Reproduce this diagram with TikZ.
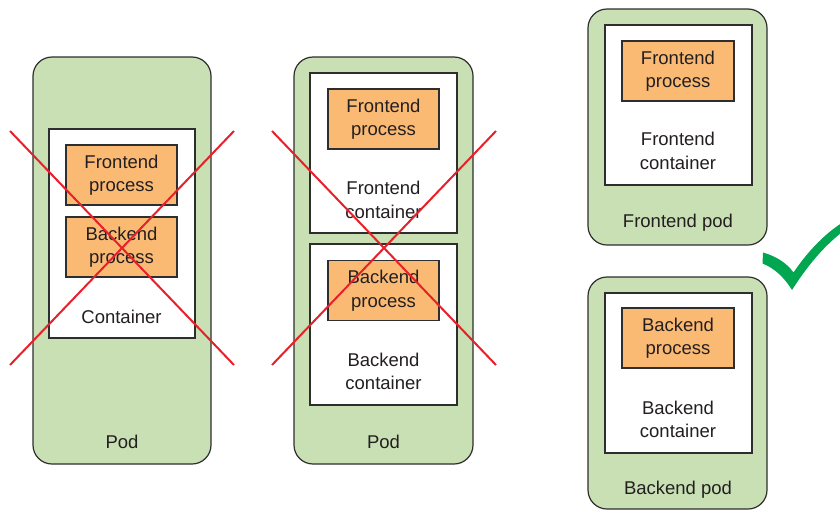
\documentclass[tikz,border=0pt]{standalone}
\usepackage{fontspec}
\setmainfont{Liberation Sans}
\definecolor{podgreen}{HTML}{C8E0B4}
\definecolor{procorange}{HTML}{FBBA74}
\definecolor{bordercol}{HTML}{2E2E2E}
\definecolor{textcol}{HTML}{231F20}
\definecolor{xred}{HTML}{E8202A}
\definecolor{checkgreen}{HTML}{00A650}
\begin{document}
\begin{tikzpicture}[x=1pt,y=-1pt,
  every node/.style={inner sep=0pt, outer sep=0pt, text=textcol, font=\fontsize{18.5}{23.5}\selectfont},
  podbox/.style={draw=bordercol, fill=podgreen, rounded corners=19pt, line width=1.2pt},
  contbox/.style={draw=bordercol, fill=white, line width=1.2pt},
  procbox/.style={draw=bordercol, fill=procorange, line width=1.2pt, align=center, minimum height=60pt},
  lbl/.style={align=center},
  cross/.style={draw=xred, line width=2pt}]
\useasboundingbox (0,0) rectangle (840,509);
% ---- left pod ----
\node[podbox, minimum width=178pt, minimum height=407pt] (pod1) at (122,260.5) {};
\node[contbox, minimum width=146pt, minimum height=209pt] (c1) at (122,233.5) {};
\node[procbox, minimum width=111pt] (fp1) at (121.5,175) {Frontend\\process};
\node[procbox, minimum width=111pt] (bp1) at (121.5,247) {Backend\\process};
\node[lbl] (c1l) at (121.5,317) {Container};
\node[lbl] (pod1l) at (122,442) {Pod};
% ---- middle pod ----
\node[podbox, minimum width=179pt, minimum height=407pt] (pod2) at (383.5,260.5) {};
\node[contbox, minimum width=147pt, minimum height=160pt] (fc2) at (383.5,153) {};
\node[procbox, minimum width=111pt] (fp2) at (383.5,119) {Frontend\\process};
\node[lbl] (fc2l) at (383.5,200) {Frontend\\container};
\node[contbox, minimum width=147pt, minimum height=161pt] (bc2) at (383.5,324.5) {};
\node[procbox, minimum width=111pt] (bp2) at (383.5,290.5) {Backend\\process};
\node[lbl] (bc2l) at (383.5,371.5) {Backend\\container};
\node[lbl] (pod2l) at (383.5,442) {Pod};
% ---- right: frontend pod ----
\node[podbox, minimum width=179pt, minimum height=236pt] (fpod) at (677.5,127) {};
\node[contbox, minimum width=147pt, minimum height=160pt] (fc3) at (678.5,105) {};
\node[procbox, minimum width=112pt] (fp3) at (678,71) {Frontend\\process};
\node[lbl] (fc3l) at (678,151) {Frontend\\container};
\node[lbl] (fpodl) at (678,223) {Frontend pod};
% ---- right: backend pod ----
\node[podbox, minimum width=179pt, minimum height=232pt] (bpod) at (677.5,393) {};
\node[contbox, minimum width=147pt, minimum height=160pt] (bc3) at (678.5,373) {};
\node[procbox, minimum width=112pt] (bp3) at (678,338) {Backend\\process};
\node[lbl] (bc3l) at (678,419.5) {Backend\\container};
\node[lbl] (bpodl) at (678,489.5) {Backend pod};
% ---- red crosses ----
\coordinate (x1a) at (10,131); \coordinate (x1b) at (234,365);
\coordinate (x1c) at (234,131); \coordinate (x1d) at (10,365);
\draw[cross] (x1a) -- (x1b);
\draw[cross] (x1c) -- (x1d);
\coordinate (x2a) at (272,131); \coordinate (x2b) at (496,365);
\coordinate (x2c) at (496,131); \coordinate (x2d) at (272,365);
\draw[cross] (x2a) -- (x2b);
\draw[cross] (x2c) -- (x2d);
% ---- check mark ----
\fill[checkgreen] (763,252.5) .. controls (775,256) and (786,262) .. (793.5,272.5)
  .. controls (806,254) and (822,236) .. (841,223.5)
  -- (841,233)
  .. controls (822,248) and (806,268) .. (792,290)
  .. controls (784,277) and (774,268) .. (762.5,263.5) -- cycle;
\end{tikzpicture}
\end{document}
